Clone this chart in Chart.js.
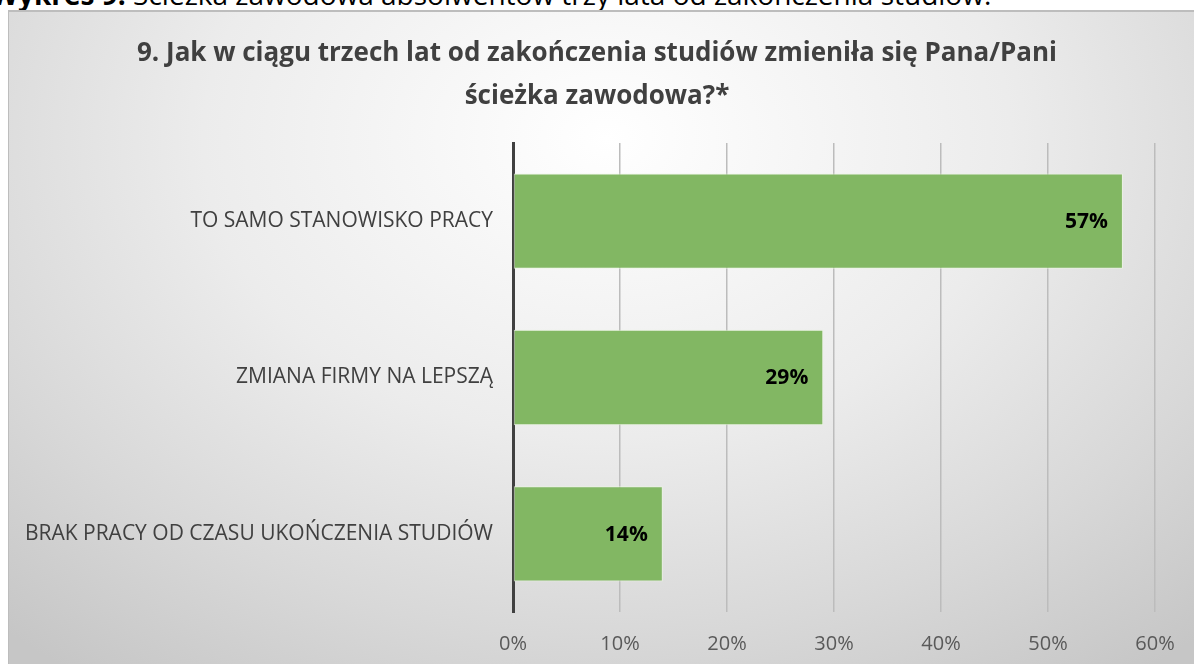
<!DOCTYPE html>
<html lang="pl">
<head>
<meta charset="utf-8">
<script src="https://cdn.jsdelivr.net/npm/chart.js@4"></script>
<style>
	html, body { margin: 0; padding: 0; background: #ffffff; overflow: hidden; }
	body { width: 1194px; height: 664px; position: relative; font-family: "Open Sans", sans-serif; }
	#caption {
		position: absolute; left: -9px; top: -25px; white-space: nowrap;
		font-family: "Open Sans", sans-serif; font-size: 28px; color: #000;
	}
	#caption b { font-weight: 700; }
	#frame {
		position: absolute; left: 8px; top: 10px; width: 1196px; height: 700px;
		border-top: 2px solid #bdbdbd; border-left: 1px solid #bdbdbd;
		background: radial-gradient(ellipse 75% 95% at 50% 18%, #ffffff 0%, #ececec 45%, #d8d8d8 75%, #c6c6c6 100%);
	}
	#wrap { position: absolute; left: 0; top: 0; width: 1190px; height: 680px; }
	#title {
		position: absolute; left: 0; width: 1194px; top: 30px; text-align: center;
		font-family: "Open Sans", sans-serif; font-size: 26px; font-weight: 700;
		line-height: 43px; color: #404040;
	}
</style>
</head>
<body>
<div id="caption"><b>Wykres 9.</b> Ścieżka zawodowa absolwentów trzy lata od zakończenia studiów.</div>
<div id="frame">
	<div id="wrap"><canvas id="careerChart"></canvas></div>
</div>
<div id="title">9. Jak w ciągu trzech lat od zakończenia studiów zmieniła się Pana/Pani<br>ścieżka zawodowa?*</div>
<script>
// Career path three years after graduation
const categories = [
	"TO SAMO STANOWISKO PRACY",
	"ZMIANA FIRMY NA LEPSZĄ",
	"BRAK PRACY OD CZASU UKOŃCZENIA STUDIÓW",
];
const shares = [57, 29, 14];
const tickValues = [0, 10, 20, 30, 40, 50, 60];

const barColor = "#82b763";
const textColor = "#404040";

// Simple inline plugin for the bold percentage labels inside the bars
const barLabels = {
	id: "barLabels",
	afterDatasetsDraw(chart) {
		const ctx = chart.ctx;
		const meta = chart.getDatasetMeta(0);
		ctx.save();
		ctx.font = "bold 21px 'Open Sans', sans-serif";
		ctx.fillStyle = "#000000";
		ctx.textAlign = "right";
		ctx.textBaseline = "middle";
		meta.data.forEach((bar, i) => {
			ctx.fillText(`${shares[i]}%`, bar.x - 15, bar.y + 1);
		});
		ctx.restore();
	},
};

const ctx = document.getElementById("careerChart").getContext("2d");
new Chart(ctx, {
	type: "bar",
	data: {
		labels: categories,
		datasets: [
			{
				data: shares,
				backgroundColor: barColor,
				borderColor: "rgba(235, 245, 225, 0.8)",
				borderWidth: 1,
				borderSkipped: false,
				categoryPercentage: 1,
				barPercentage: 0.61,
			},
		],
	},
	options: {
		indexAxis: "y",
		responsive: true,
		maintainAspectRatio: false,
		animation: false,
		// top space is taken by the HTML title
		layout: { padding: { left: 0, right: 44, top: 131, bottom: 16 } },
		scales: {
			x: {
				min: 0,
				max: 60,
				afterBuildTicks: (scale) => {
					scale.ticks = tickValues.map((v) => ({ value: v }));
				},
				grid: {
					color: (c) => (c.tick && c.tick.value === 0 ? "rgba(0,0,0,0)" : "#bcbcbc"),
					lineWidth: 1.5,
					drawTicks: false,
				},
				border: { display: false },
				ticks: {
					color: "#595959",
					font: { family: "'Open Sans', sans-serif", size: 20 },
					padding: 20,
					callback: (v) => `${v}%`,
				},
			},
			y: {
				afterFit: (scale) => {
					scale.width = 504;
				},
				grid: { display: false, drawTicks: false },
				border: { display: true, color: "#404040", width: 3 },
				ticks: {
					color: textColor,
					font: { family: "'Open Sans', sans-serif", size: 21 },
					padding: 20,
				},
			},
		},
		plugins: {
			legend: { display: false },
			tooltip: { enabled: false },
			title: { display: false },
		},
	},
	plugins: [barLabels],
});
</script>
</body>
</html>
